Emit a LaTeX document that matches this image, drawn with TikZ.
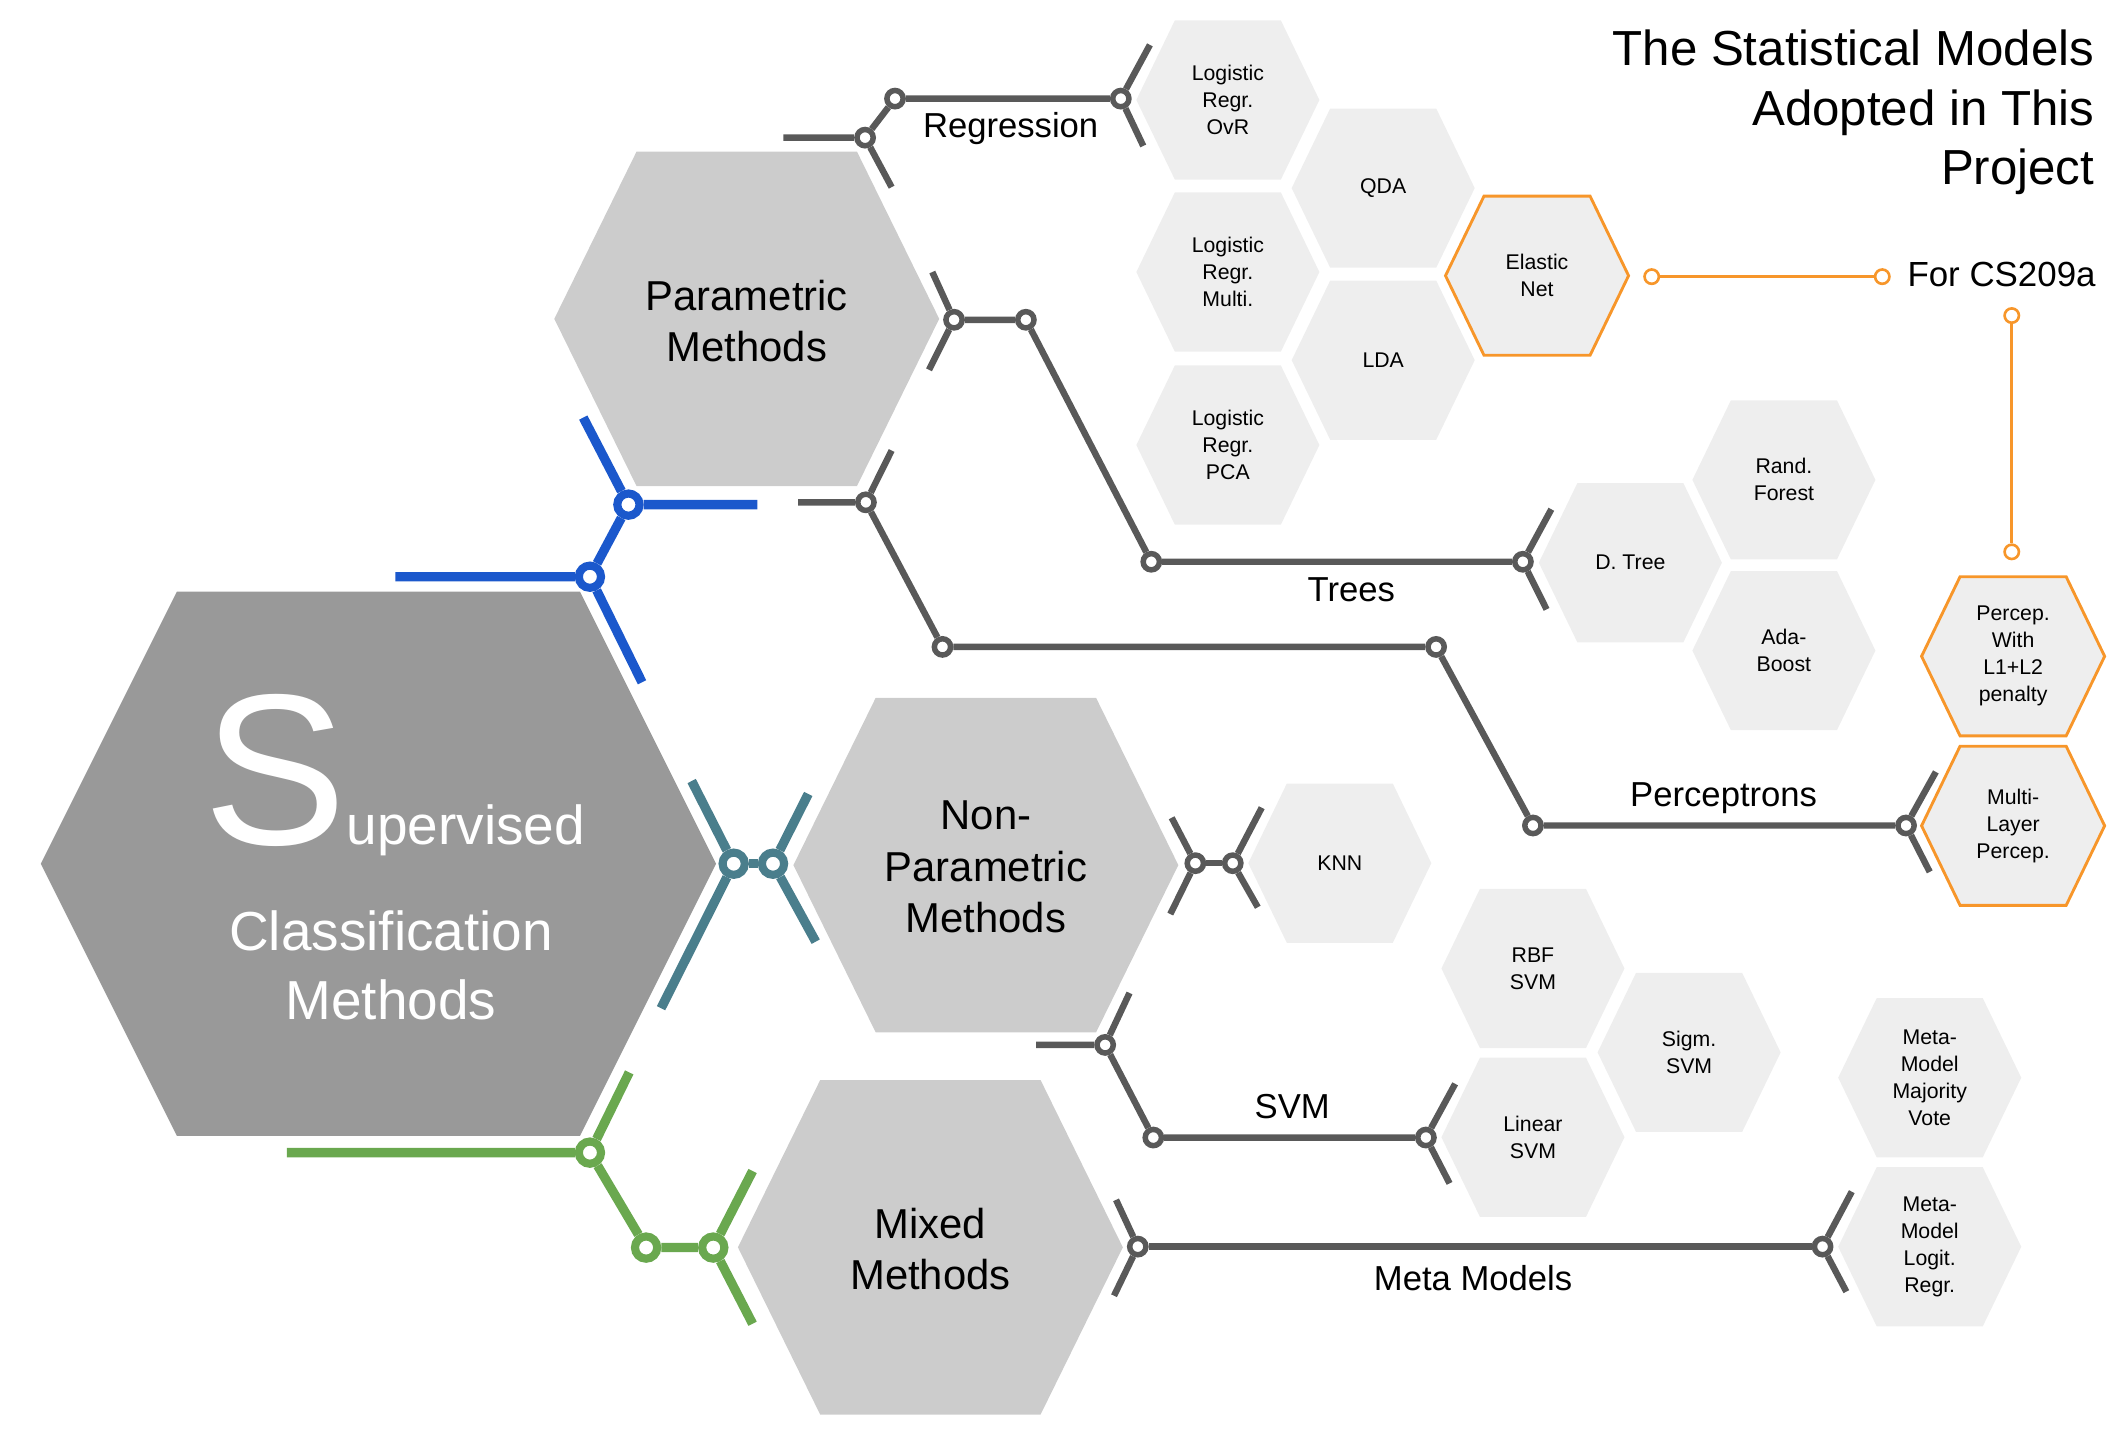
\documentclass[tikz,border=0pt]{standalone}
\usepackage{fontspec}
\setmainfont{Liberation Sans}
\usetikzlibrary{positioning}

\definecolor{hexbig}{HTML}{999999}
\definecolor{hexmid}{HTML}{CCCCCC}
\definecolor{hexsmall}{HTML}{EEEEEE}
\definecolor{metro}{HTML}{595959}
\definecolor{lineblue}{HTML}{1B58CC}
\definecolor{lineteal}{HTML}{4A7E8C}
\definecolor{linegreen}{HTML}{6AA84F}
\definecolor{lineorange}{HTML}{F7962A}

\tikzset{
  track/.style={draw=metro, line width=2.7pt},
  stop/.style={circle, draw=metro, fill=white, line width=2.3pt, inner sep=0pt, minimum size=6.8pt},
  bigtrack/.style={line width=3.9pt},
  bigstop/.style={circle, fill=white, line width=3.4pt, inner sep=0pt, minimum size=9.3pt},
  otrack/.style={draw=lineorange, line width=1.1pt},
  ostop/.style={circle, draw=lineorange, fill=white, line width=1.1pt, inner sep=0pt, minimum size=6pt},
  smalltxt/.style={align=center, font=\fontsize{8.9}{11.3}\selectfont},
  midtxt/.style={align=center, font=\fontsize{17.5}{21.5}\selectfont},
  lbl/.style={anchor=base, inner sep=0pt, font=\fontsize{14.5}{17}\selectfont}
}

\begin{document}
\begin{tikzpicture}[x=0.02cm, y=-0.02cm]

\useasboundingbox (0,0) rectangle (1563,1057);

% big hexagon
\fill[hexbig] (30,635) -- ++(100,-200) -- ++(296.4,0) -- ++(100,200) -- ++(-100,200) -- ++(-296.4,0) -- cycle;
\node[anchor=base, inner sep=0pt, text=white] (sup) at (289.8,621) {\fontsize{90}{90}\selectfont S\fontsize{23}{28}\selectfont upervised};
\node[align=center, text=white, font=\fontsize{23}{28.8}\selectfont] (clas) at (287.5,710) {Classification\\Methods};

% method hexagons
\foreach \n/\x/\y/\t in {param/549/234.4/{Parametric\\Methods}, nonparam/724.8/636/{Non-\\Parametric\\Methods}, mixed/684/917/{Mixed\\Methods}}
{
  \fill[hexmid] (\x-141.5,\y) -- ++(60.5,-123) -- ++(162,0) -- ++(60.5,123) -- ++(-60.5,123) -- ++(-162,0) -- cycle;
  \node[midtxt] (\n) at (\x,\y+1.5) {\t};
}

% model hexagons
\foreach \n/\x/\y/\t in {ovr/902.7/73.5/{Logistic\\Regr.\\OvR}, qda/1016.9/138.3/{QDA}, multi/902.7/200/{Logistic\\Regr.\\Multi.}, lda/1016.9/264.8/{LDA}, pca/902.7/327.2/{Logistic\\Regr.\\PCA}, forest/1311.5/352.8/{Rand.\\Forest}, dtree/1198.6/413.7/{D. Tree}, ada/1311.5/478.3/{Ada-\\Boost}, knn/985/634.6/{KNN}, rbf/1127/712/{RBF\\SVM}, sigm/1241.8/773.7/{Sigm.\\SVM}, linear/1127/836.1/{Linear\\SVM}, vote/1418.7/792.3/{Meta-\\Model\\Majority\\Vote}, logit/1418.7/916.6/{Meta-\\Model\\Logit.\\Regr.}}
{
  \fill[hexsmall] (\x-67.3,\y) -- ++(28.3,-58.5) -- ++(78,0) -- ++(28.3,58.5) -- ++(-28.3,58.5) -- ++(-78,0) -- cycle;
  \node[smalltxt] (\n) at (\x,\y) {\t};
}

% models for CS209a
\foreach \n/\x/\y/\t in {elastic/1130/202.7/{Elastic\\Net}, penalty/1480/482.5/{Percep.\\With\\L1+L2\\penalty}, mlp/1480/607.1/{Multi-\\Layer\\Percep.}}
{
  \filldraw[fill=hexsmall, draw=lineorange, line width=1.2pt] (\x-67.3,\y) -- ++(28.3,-58.5) -- ++(78,0) -- ++(28.3,58.5) -- ++(-28.3,58.5) -- ++(-78,0) -- cycle;
  \node[smalltxt] (\n) at (\x,\y) {\t};
}

% blue line
\coordinate (bA) at (290.6,424);
\coordinate (bB) at (472,501.6);
\coordinate (bC) at (556.8,371);
\coordinate (bD) at (428.8,307);
\node[bigstop, draw=lineblue] (b1) at (433.7,424) {};
\node[bigstop, draw=lineblue] (b2) at (462,371) {};
\draw[bigtrack, lineblue] (bA) -- (b1) -- (bB);
\draw[bigtrack, lineblue] (b1) -- (b2);
\draw[bigtrack, lineblue] (bD) -- (b2) -- (bC);

% teal line
\coordinate (tA) at (508.5,574.2);
\coordinate (tB) at (486,741.2);
\coordinate (tC) at (594.2,583.7);
\coordinate (tD) at (599.7,692.3);
\node[bigstop, draw=lineteal] (t1) at (539.4,635) {};
\node[bigstop, draw=lineteal] (t2) at (568.3,635) {};
\draw[bigtrack, lineteal] (tA) -- (t1) -- (tB);
\draw[bigtrack, lineteal] (t1) -- (t2);
\draw[bigtrack, lineteal] (tC) -- (t2) -- (tD);

% green line
\coordinate (gA) at (210.9,847.4);
\coordinate (gB) at (462.6,788.4);
\coordinate (gC) at (553.3,860.9);
\coordinate (gD) at (553.3,973.2);
\node[bigstop, draw=linegreen] (g1) at (433.7,847.4) {};
\node[bigstop, draw=linegreen] (g2) at (475,917.2) {};
\node[bigstop, draw=linegreen] (g3) at (524.4,917.2) {};
\draw[bigtrack, linegreen] (gA) -- (g1) -- (gB);
\draw[bigtrack, linegreen] (g1) -- (g2) -- (g3);
\draw[bigtrack, linegreen] (gC) -- (g3) -- (gD);

% Regression
\coordinate (rA) at (576,101.2);
\coordinate (rB) at (655.5,137.6);
\coordinate (rC) at (845.4,33);
\coordinate (rD) at (840.5,107.3);
\node[stop] (r1) at (636,101.2) {};
\node[stop] (r2) at (658,72.5) {};
\node[stop] (r3) at (824,72.5) {};
\draw[track] (rA) -- (r1) -- (rB);
\draw[track] (r1) -- (r2) -- (r3);
\draw[track] (rC) -- (r3) -- (rD);
\node[lbl] (reglbl) at (743,101.2) {Regression};

% Trees
\coordinate (trA) at (685.4,200);
\coordinate (trB) at (683,271.9);
\coordinate (trC) at (1140.5,374.4);
\coordinate (trD) at (1137,448);
\node[stop] (tr1) at (701.4,235.1) {};
\node[stop] (tr2) at (754.2,235.1) {};
\node[stop] (tr3) at (846.4,413) {};
\node[stop] (tr4) at (1119.6,413) {};
\draw[track] (trA) -- (tr1) -- (trB);
\draw[track] (tr1) -- (tr2) -- (tr3) -- (tr4);
\draw[track] (trC) -- (tr4) -- (trD);
\node[lbl] (treelbl) at (993.5,442.5) {Trees};

% Perceptrons
\coordinate (pA) at (586.8,369.3);
\coordinate (pB) at (655.5,331.2);
\coordinate (pC) at (1423.2,567.5);
\coordinate (pD) at (1418.7,641);
\node[stop] (p1) at (636.6,369.3) {};
\node[stop] (p2) at (692.9,475.6) {};
\node[stop] (p3) at (1055.8,475.6) {};
\node[stop] (p4) at (1127,606.9) {};
\node[stop] (p5) at (1401.3,606.9) {};
\draw[track] (pA) -- (p1) -- (pB);
\draw[track] (p1) -- (p2) -- (p3) -- (p4) -- (p5);
\draw[track] (pC) -- (p5) -- (pD);
\node[lbl] (perclbl) at (1267.2,592.8) {Perceptrons};

% KNN
\coordinate (kA) at (861.4,601.2);
\coordinate (kB) at (860.4,672);
\coordinate (kC) at (927.6,593.8);
\coordinate (kD) at (924.7,667);
\node[stop] (k1) at (878.8,634.6) {};
\node[stop] (k2) at (906.3,634.6) {};
\draw[track] (kA) -- (k1) -- (kB);
\draw[track] (k1) -- (k2);
\draw[track] (kC) -- (k2) -- (kD);

% SVM
\coordinate (sA) at (761.7,768.2);
\coordinate (sB) at (830.4,730);
\coordinate (sC) at (1069.8,796.8);
\coordinate (sD) at (1065.7,870);
\node[stop] (s1) at (812.5,768.2) {};
\node[stop] (s2) at (847.9,836.3) {};
\node[stop] (s3) at (1048.3,836.3) {};
\draw[track] (sA) -- (s1) -- (sB);
\draw[track] (s1) -- (s2) -- (s3);
\draw[track] (sC) -- (s3) -- (sD);
\node[lbl] (svmlbl) at (950,822) {SVM};

% Meta Models
\coordinate (mA) at (820.5,882.1);
\coordinate (mB) at (819,952.6);
\coordinate (mC) at (1361.4,876.1);
\coordinate (mD) at (1357.4,949.6);
\node[stop] (m1) at (836.5,916.5) {};
\node[stop] (m2) at (1339.9,916.5) {};
\draw[track] (mA) -- (m1) -- (mB);
\draw[track] (m1) -- (m2);
\draw[track] (mC) -- (m2) -- (mD);
\node[lbl] (metalbl) at (1083,948.5) {Meta Models};

% CS209a
\node[ostop] (o1) at (1214.3,203.4) {};
\node[ostop] (o2) at (1383.8,203.4) {};
\node[ostop] (o3) at (1479,232) {};
\node[ostop] (o4) at (1479,405.7) {};
\draw[otrack] (o1) -- (o2);
\draw[otrack] (o3) -- (o4);
\node[lbl, anchor=base west, font=\fontsize{14.6}{17}\selectfont] (cs) at (1402,210.8) {For CS209a};

\node[anchor=north east, align=right, inner sep=0pt, font=\fontsize{20.6}{25}\selectfont] (title) at (1540,21.5) {The Statistical Models\\Adopted in This\\Project};

\end{tikzpicture}
\end{document}
